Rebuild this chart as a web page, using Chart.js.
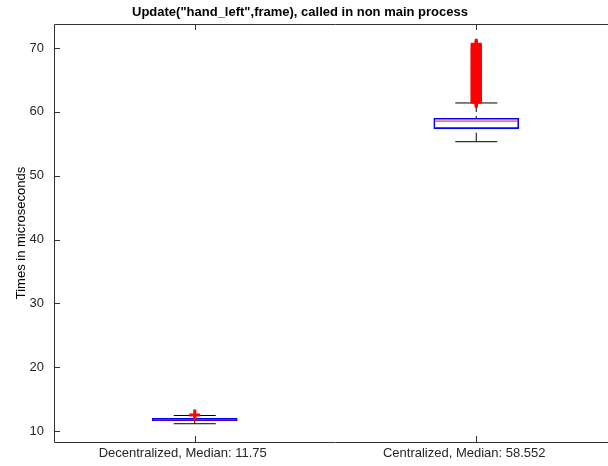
<!DOCTYPE html>
<html>
<head>
<meta charset="utf-8">
<script src="https://cdn.jsdelivr.net/npm/chart.js@4"></script>
<style>
  html, body { margin: 0; padding: 0; background: #fff; overflow: hidden; }
  canvas { display: block; }
</style>
</head>
<body>
<canvas id="boxChart" width="620" height="466"></canvas>
<script>
// values
const categories = ["Decentralized, Median: 11.75", "Centralized, Median: 58.552"];
const lowerWhisker = [11.14, 55.32];
const lowerQuartile = [11.6, 57.36];
const medians = [11.75, 58.552];
const upperQuartile = [11.98, 58.99];
const upperWhisker = [12.43, 61.39];
const outliersDecentralized = [12.52];
const outliersCentralized = [61.5, 61.6, 61.8, 61.9, 62.1, 62.3, 62.4, 62.6, 62.8, 62.9, 63.1,
  63.2, 63.4, 63.6, 63.7, 63.9, 64.1, 64.2, 64.4, 64.5, 64.7, 64.9, 65.0, 65.2, 65.4, 65.5,
  65.7, 65.8, 66.0, 66.2, 66.3, 66.5, 66.7, 66.8, 67.0, 67.1, 67.3, 67.5, 67.6, 67.8, 68.0,
  68.1, 68.3, 68.4, 68.6, 68.8, 68.9, 69.1, 69.3, 69.4, 69.6, 69.7, 69.9, 70.1, 70.2, 70.4, 70.6];
const yTicks = [10, 20, 30, 40, 50, 60, 70];

const titleText = 'Update("hand_left",frame), called in non main process';
const yTitle = "Times in microseconds";
const axisColor = "#333333";
const fontFamily = "'Liberation Sans', Arial, Helvetica, sans-serif";

const pos = categories.map((c, i) => i + 1);

// whisker segments, broken by gaps
const whiskerData = [];
pos.forEach((x, i) => {
  whiskerData.push({ x: x, y: upperWhisker[i] }, { x: x, y: upperQuartile[i] }, { x: x, y: null });
  whiskerData.push({ x: x, y: lowerWhisker[i] }, { x: x, y: lowerQuartile[i] }, { x: x, y: null });
});

const capData = [];
pos.forEach((x, i) => {
  capData.push({ x: x, y: upperWhisker[i] }, { x: x, y: lowerWhisker[i] });
});

const outlierData = outliersDecentralized.map(v => ({ x: 1, y: v }))
  .concat(outliersCentralized.map(v => ({ x: 2, y: v })));

const frame = {
  id: 'frame',
  afterDatasetsDraw(chart) {
    const { ctx, chartArea: a, scales } = chart;
    ctx.save();
    ctx.strokeStyle = axisColor;
    ctx.lineWidth = 1;
    ctx.beginPath();
    ctx.rect(a.left + 0.5, a.top + 0.5, a.right - a.left - 1, a.bottom - a.top);
    yTicks.forEach(v => {
      const y = Math.round(scales.y.getPixelForValue(v)) + 0.5;
      ctx.moveTo(a.left, y); ctx.lineTo(a.left + 6, y);
      ctx.moveTo(a.right, y); ctx.lineTo(a.right - 6, y);
    });
    pos.forEach(v => {
      const x = Math.round(scales.x.getPixelForValue(v)) + 0.5;
      ctx.moveTo(x, a.bottom); ctx.lineTo(x, a.bottom - 6);
      ctx.moveTo(x, a.top); ctx.lineTo(x, a.top + 6);
    });
    ctx.stroke();

    ctx.fillStyle = "#000";
    ctx.font = "bold 13px " + fontFamily;
    ctx.textAlign = "center";
    ctx.textBaseline = "middle";
    ctx.fillText(titleText, 300, 12);
    ctx.restore();
  }
};

const ctx = document.getElementById('boxChart').getContext('2d');
new Chart(ctx, {
  type: 'bar',
  data: {
    datasets: [
      {
        type: 'scatter',
        label: 'outliers',
        data: outlierData,
        pointStyle: 'cross',
        pointRadius: 5.5,
        borderColor: '#ff0000',
        borderWidth: 3,
        order: 0
      },
      {
        type: 'scatter',
        label: 'median',
        data: pos.map((x, i) => ({ x: x, y: medians[i] })),
        pointStyle: 'line',
        pointRadius: 41,
        borderColor: '#ff0000',
        borderWidth: 1,
        order: 1
      },
      {
        type: 'bar',
        label: 'box',
        data: pos.map((x, i) => ({ x: x, y: [lowerQuartile[i], upperQuartile[i]] })),
        barThickness: 85,
        backgroundColor: 'rgba(0,0,0,0)',
        borderColor: '#0000ff',
        borderWidth: 1,
        borderSkipped: false,
        grouped: false,
        order: 2
      },
      {
        type: 'scatter',
        label: 'caps',
        data: capData,
        pointStyle: 'line',
        pointRadius: 21,
        borderColor: '#000000',
        borderWidth: 1,
        order: 3
      },
      {
        type: 'line',
        label: 'whiskers',
        data: whiskerData,
        pointRadius: 0,
        borderColor: '#000000',
        borderWidth: 1,
        borderDash: [9, 4],
        spanGaps: false,
        order: 4
      }
    ]
  },
  options: {
    responsive: false,
    animation: false,
    layout: { autoPadding: false, padding: { top: 24, right: 3, left: 0, bottom: 0 } },
    plugins: {
      legend: { display: false },
      tooltip: { enabled: false },
      title: { display: false }
    },
    scales: {
      x: {
        type: 'linear',
        offset: false,
        min: 0.5,
        max: 2.5,
        grid: { display: false, drawTicks: false },
        border: { display: false },
        afterBuildTicks: (axis) => { axis.ticks = pos.map(v => ({ value: v })); },
        afterFit: (axis) => {
          axis.height = 24;
          axis.paddingLeft = 0; axis.paddingRight = 0;
          axis.paddingTop = 0; axis.paddingBottom = 0;
        },
        ticks: {
          callback: (v) => categories[v - 1],
          autoSkip: false,
          maxRotation: 0,
          labelOffset: -12,
          padding: 4,
          color: '#262626',
          font: { family: fontFamily, size: 13 }
        }
      },
      y: {
        type: 'linear',
        min: 8.277,
        max: 73.76,
        grid: { display: false, drawTicks: false },
        border: { display: false },
        afterBuildTicks: (axis) => { axis.ticks = yTicks.map(v => ({ value: v })); },
        afterFit: (axis) => {
          axis.width = 54;
          axis.paddingLeft = 0; axis.paddingRight = 0;
          axis.paddingTop = 0; axis.paddingBottom = 0;
        },
        ticks: {
          padding: 10,
          color: '#262626',
          font: { family: fontFamily, size: 13 }
        },
        title: {
          display: true,
          text: yTitle,
          color: '#000',
          padding: { top: 14, bottom: 0 },
          font: { family: fontFamily, size: 13 }
        }
      }
    }
  },
  plugins: [frame]
});
</script>
</body>
</html>
